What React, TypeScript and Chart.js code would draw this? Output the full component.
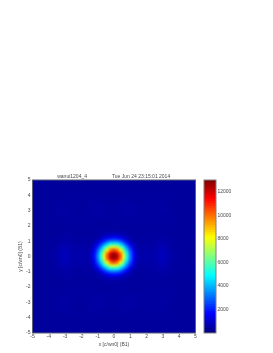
import { useEffect, useRef } from "react";
import { Chart, registerables } from "chart.js";

Chart.register(...registerables);

const chartTitle = "          wanui1204_4                  Tue Jun 24 23:15:01 2014";
const xAxisLabel = "x [c/wn0] (B1)";
const yAxisLabel = "y [c/wn0] (B1)";
const colorTicks = [2000, 4000, 6000, 8000, 10000, 12000];

// Wide field: x -5..5 by 0.5 (columns), y 5..-5 by 0.5 (rows)
const fieldX = [-5, -4.5, -4, -3.5, -3, -2.5, -2, -1.5, -1, -0.5, 0, 0.5, 1, 1.5, 2, 2.5, 3, 3.5, 4, 4.5, 5];
const fieldY = [5, 4.5, 4, 3.5, 3, 2.5, 2, 1.5, 1, 0.5, 0, -0.5, -1, -1.5, -2, -2.5, -3, -3.5, -4, -4.5, -5];
const fieldZ = [
  [380, 380, 380, 380, 380, 380, 380, 380, 380, 380, 380, 380, 380, 380, 380, 380, 380, 380, 380, 380, 380],
  [380, 380, 380, 380, 380, 380, 380, 380, 380, 380, 380, 380, 380, 380, 380, 380, 380, 380, 380, 380, 380],
  [380, 380, 380, 380, 380, 380, 380, 380, 380, 380, 380, 380, 380, 380, 380, 380, 380, 380, 380, 380, 380],
  [380, 380, 380, 400, 420, 420, 400, 400, 440, 420, 400, 420, 440, 400, 400, 420, 420, 400, 380, 380, 380],
  [380, 380, 380, 420, 500, 430, 400, 420, 560, 450, 420, 450, 560, 420, 400, 430, 500, 420, 380, 380, 380],
  [380, 380, 380, 400, 420, 420, 400, 400, 440, 420, 400, 420, 440, 400, 400, 420, 420, 400, 380, 380, 380],
  [380, 380, 380, 380, 380, 380, 380, 380, 380, 380, 380, 380, 380, 380, 380, 380, 380, 380, 380, 380, 380],
  [380, 380, 380, 380, 400, 400, 380, 400, 400, 400, 400, 400, 400, 400, 380, 400, 400, 380, 380, 380, 380],
  [380, 380, 380, 400, 500, 420, 420, 400, 450, 450, 450, 450, 450, 400, 420, 420, 500, 400, 380, 380, 380],
  [380, 380, 400, 450, 760, 480, 560, 420, 450, 450, 450, 450, 450, 420, 560, 480, 760, 450, 400, 380, 380],
  [380, 380, 420, 480, 900, 500, 620, 440, 450, 450, 450, 450, 450, 440, 620, 500, 900, 480, 420, 380, 380],
  [380, 380, 400, 450, 760, 480, 560, 420, 450, 450, 450, 450, 450, 420, 560, 480, 760, 450, 400, 380, 380],
  [380, 380, 380, 400, 500, 420, 420, 400, 450, 450, 450, 450, 450, 400, 420, 420, 500, 400, 380, 380, 380],
  [380, 380, 380, 380, 400, 400, 380, 400, 400, 400, 400, 400, 400, 400, 380, 400, 400, 380, 380, 380, 380],
  [380, 380, 380, 380, 380, 380, 380, 380, 380, 380, 380, 380, 380, 380, 380, 380, 380, 380, 380, 380, 380],
  [380, 380, 380, 400, 420, 420, 400, 400, 440, 420, 400, 420, 440, 400, 400, 420, 420, 400, 380, 380, 380],
  [380, 380, 380, 420, 500, 430, 400, 420, 560, 450, 420, 450, 560, 420, 400, 430, 500, 420, 380, 380, 380],
  [380, 380, 380, 400, 420, 420, 400, 400, 440, 420, 400, 420, 440, 400, 400, 420, 420, 400, 380, 380, 380],
  [380, 380, 380, 380, 380, 380, 380, 380, 380, 380, 380, 380, 380, 380, 380, 380, 380, 380, 380, 380, 380],
  [380, 380, 380, 380, 380, 380, 380, 380, 380, 380, 380, 380, 380, 380, 380, 380, 380, 380, 380, 380, 380],
  [380, 380, 380, 380, 380, 380, 380, 380, 380, 380, 380, 380, 380, 380, 380, 380, 380, 380, 380, 380, 380],
];

// Central spot: x and y -1.6..1.6 by 0.2
const spotX = [-1.6, -1.4, -1.2, -1, -0.8, -0.6, -0.4, -0.2, 0, 0.2, 0.4, 0.6, 0.8, 1, 1.2, 1.4, 1.6];
const spotY = [1.6, 1.4, 1.2, 1, 0.8, 0.6, 0.4, 0.2, 0, -0.2, -0.4, -0.6, -0.8, -1, -1.2, -1.4, -1.6];
const spotZ = [
  [400, 400, 400, 420, 430, 450, 480, 500, 500, 500, 480, 450, 430, 420, 400, 400, 400],
  [400, 400, 420, 440, 500, 600, 720, 810, 850, 810, 720, 600, 500, 440, 420, 400, 400],
  [400, 420, 450, 540, 720, 1060, 1410, 1660, 1760, 1660, 1410, 1060, 720, 540, 450, 420, 400],
  [420, 440, 540, 810, 1330, 1960, 2580, 3060, 3240, 3060, 2580, 1960, 1330, 810, 540, 440, 420],
  [430, 500, 720, 1330, 2200, 3240, 4270, 5050, 5340, 5050, 4270, 3240, 2200, 1330, 720, 500, 430],
  [450, 600, 1060, 1960, 3240, 4780, 6300, 7440, 7870, 7440, 6300, 4780, 3240, 1960, 1060, 600, 450],
  [480, 720, 1410, 2580, 4270, 6300, 8320, 9850, 10400, 9850, 8320, 6300, 4270, 2580, 1410, 720, 480],
  [500, 810, 1660, 3060, 5050, 7440, 9850, 11640, 12300, 11640, 9850, 7440, 5050, 3060, 1660, 810, 500],
  [500, 850, 1760, 3240, 5340, 7870, 10400, 12300, 13000, 12300, 10400, 7870, 5340, 3240, 1760, 850, 500],
  [500, 810, 1660, 3060, 5050, 7440, 9850, 11640, 12300, 11640, 9850, 7440, 5050, 3060, 1660, 810, 500],
  [480, 720, 1410, 2580, 4270, 6300, 8320, 9850, 10400, 9850, 8320, 6300, 4270, 2580, 1410, 720, 480],
  [450, 600, 1060, 1960, 3240, 4780, 6300, 7440, 7870, 7440, 6300, 4780, 3240, 1960, 1060, 600, 450],
  [430, 500, 720, 1330, 2200, 3240, 4270, 5050, 5340, 5050, 4270, 3240, 2200, 1330, 720, 500, 430],
  [420, 440, 540, 810, 1330, 1960, 2580, 3060, 3240, 3060, 2580, 1960, 1330, 810, 540, 440, 420],
  [400, 420, 450, 540, 720, 1060, 1410, 1660, 1760, 1660, 1410, 1060, 720, 540, 450, 420, 400],
  [400, 400, 420, 440, 500, 600, 720, 810, 850, 810, 720, 600, 500, 440, 420, 400, 400],
  [400, 400, 400, 420, 430, 450, 480, 500, 500, 500, 480, 450, 430, 420, 400, 400, 400],
];

// Colour bar level edges (64 bands)
const colorEdges = [
  0, 203, 406, 609, 813, 1016, 1219, 1422, 1625, 1828, 2031, 2234, 2438, 2641, 2844, 3047,
  3250, 3453, 3656, 3859, 4063, 4266, 4469, 4672, 4875, 5078, 5281, 5484, 5688, 5891, 6094, 6297,
  6500, 6703, 6906, 7109, 7313, 7516, 7719, 7922, 8125, 8328, 8531, 8734, 8938, 9141, 9344, 9547,
  9750, 9953, 10156, 10359, 10563, 10766, 10969, 11172, 11375, 11578, 11781, 11984, 12188, 12391, 12594, 12797, 13000,
];

const Z_MAX = 13000;
const TEXT = "#4a4a4a";
const FONT = { family: "'Liberation Sans', Arial, sans-serif", size: 5 };

function jet(z: number): string {
  const v = Math.min(1, Math.max(0, z / Z_MAX));
  const ch = (c: number) => Math.round(255 * Math.min(1, Math.max(0, 1.5 - Math.abs(4 * v - c))));
  return `rgb(${ch(3)},${ch(2)},${ch(1)})`;
}

function cells(xs: number[], ys: number[], zs: number[][]) {
  const points: { x: number; y: number }[] = [];
  const colors: string[] = [];
  ys.forEach((y, r) =>
    xs.forEach((x, c) => {
      points.push({ x, y });
      colors.push(jet(zs[r][c]));
    })
  );
  return { points, colors };
}

const framePlugin = (color: string) => ({
  id: "frame",
  afterDraw(chart: any) {
    const { ctx, chartArea: a } = chart;
    ctx.save();
    ctx.strokeStyle = color;
    ctx.lineWidth = 1;
    ctx.strokeRect(a.left, a.top, a.right - a.left, a.bottom - a.top);
    ctx.restore();
  },
});

const smoothPlugin = {
  id: "smooth",
  afterDatasetDraw(chart: any, args: any) {
    const { ctx, chartArea: a } = chart;
    ctx.save();
    ctx.beginPath();
    ctx.rect(a.left, a.top, a.right - a.left, a.bottom - a.top);
    ctx.clip();
    ctx.filter = args.index === 1 ? "blur(3.5px)" : "blur(1px)";
    ctx.drawImage(chart.canvas, 0, 0, chart.width, chart.height);
    ctx.restore();
  },
};

const canvasStyle: React.CSSProperties = { position: "absolute", left: 0, top: 0 };

export default function App() {
  const mapRef = useRef<HTMLCanvasElement>(null);
  const barRef = useRef<HTMLCanvasElement>(null);

  useEffect(() => {
    const field = cells(fieldX, fieldY, fieldZ);
    const spot = cells(spotX, spotY, spotZ);
    const map = new Chart(mapRef.current!, {
      type: "scatter",
      data: {
        datasets: [
          { data: spot.points, backgroundColor: spot.colors, pointStyle: "rect", pointRadius: 2.5, borderWidth: 0 },
          { data: field.points, backgroundColor: field.colors, pointStyle: "rect", pointRadius: 6.2, borderWidth: 0 },
        ],
      },
      options: {
        animation: false,
        responsive: false,
        layout: { padding: { left: 18, right: 77.5, top: 174, bottom: 5 } },
        plugins: {
          legend: { display: false },
          tooltip: { enabled: false },
          title: { display: true, text: chartTitle, color: TEXT, font: { ...FONT, weight: "normal" }, padding: 0 },
        },
        scales: {
          x: {
            type: "linear",
            min: -5,
            max: 5,
            afterFit: (s: any) => { s.height = 15; },
            grid: { display: false, drawTicks: false },
            border: { display: false },
            ticks: { stepSize: 1, color: TEXT, font: FONT, padding: 1, maxRotation: 0, autoSkip: false },
            title: { display: true, text: xAxisLabel, color: TEXT, font: FONT, padding: 0 },
          },
          y: {
            type: "linear",
            min: -5,
            max: 5,
            afterFit: (s: any) => { s.width = 14.5; },
            grid: { display: false, drawTicks: false },
            border: { display: false },
            ticks: { stepSize: 1, color: TEXT, font: FONT, padding: 2, autoSkip: false },
            title: { display: true, text: yAxisLabel, color: TEXT, font: FONT, padding: 0 },
          },
        },
      },
      plugins: [smoothPlugin, framePlugin("#5a5f7a")],
    } as any);

    const bar = new Chart(barRef.current!, {
      type: "bar",
      data: {
        labels: ["z"],
        datasets: colorEdges.slice(0, -1).map((lo, i) => ({
          data: [[Math.max(0, lo - 60), colorEdges[i + 1]]],
          backgroundColor: jet((lo + colorEdges[i + 1]) / 2),
          barPercentage: 1,
          categoryPercentage: 1,
          grouped: false,
          borderWidth: 0,
        })),
      },
      options: {
        animation: false,
        responsive: false,
        layout: { padding: { left: 204, right: 0, top: 180, bottom: 20 } },
        plugins: { legend: { display: false }, tooltip: { enabled: false } },
        scales: {
          x: { display: false },
          y: {
            position: "right",
            min: 0,
            max: Z_MAX,
            afterBuildTicks: (s: any) => { s.ticks = colorTicks.map((value) => ({ value })); },
            afterFit: (s: any) => { s.width = 57; },
            grid: { display: false, drawTicks: false },
            border: { display: false },
            ticks: { color: TEXT, font: FONT, padding: 1.5, callback: (v: any) => String(v) },
          },
        },
      },
      plugins: [framePlugin("#808080")],
    } as any);

    return () => {
      map.destroy();
      bar.destroy();
    };
  }, []);

  return (
    <>
      <canvas ref={mapRef} width={273} height={353} style={canvasStyle} />
      <canvas ref={barRef} width={273} height={353} style={canvasStyle} />
    </>
  );
}
